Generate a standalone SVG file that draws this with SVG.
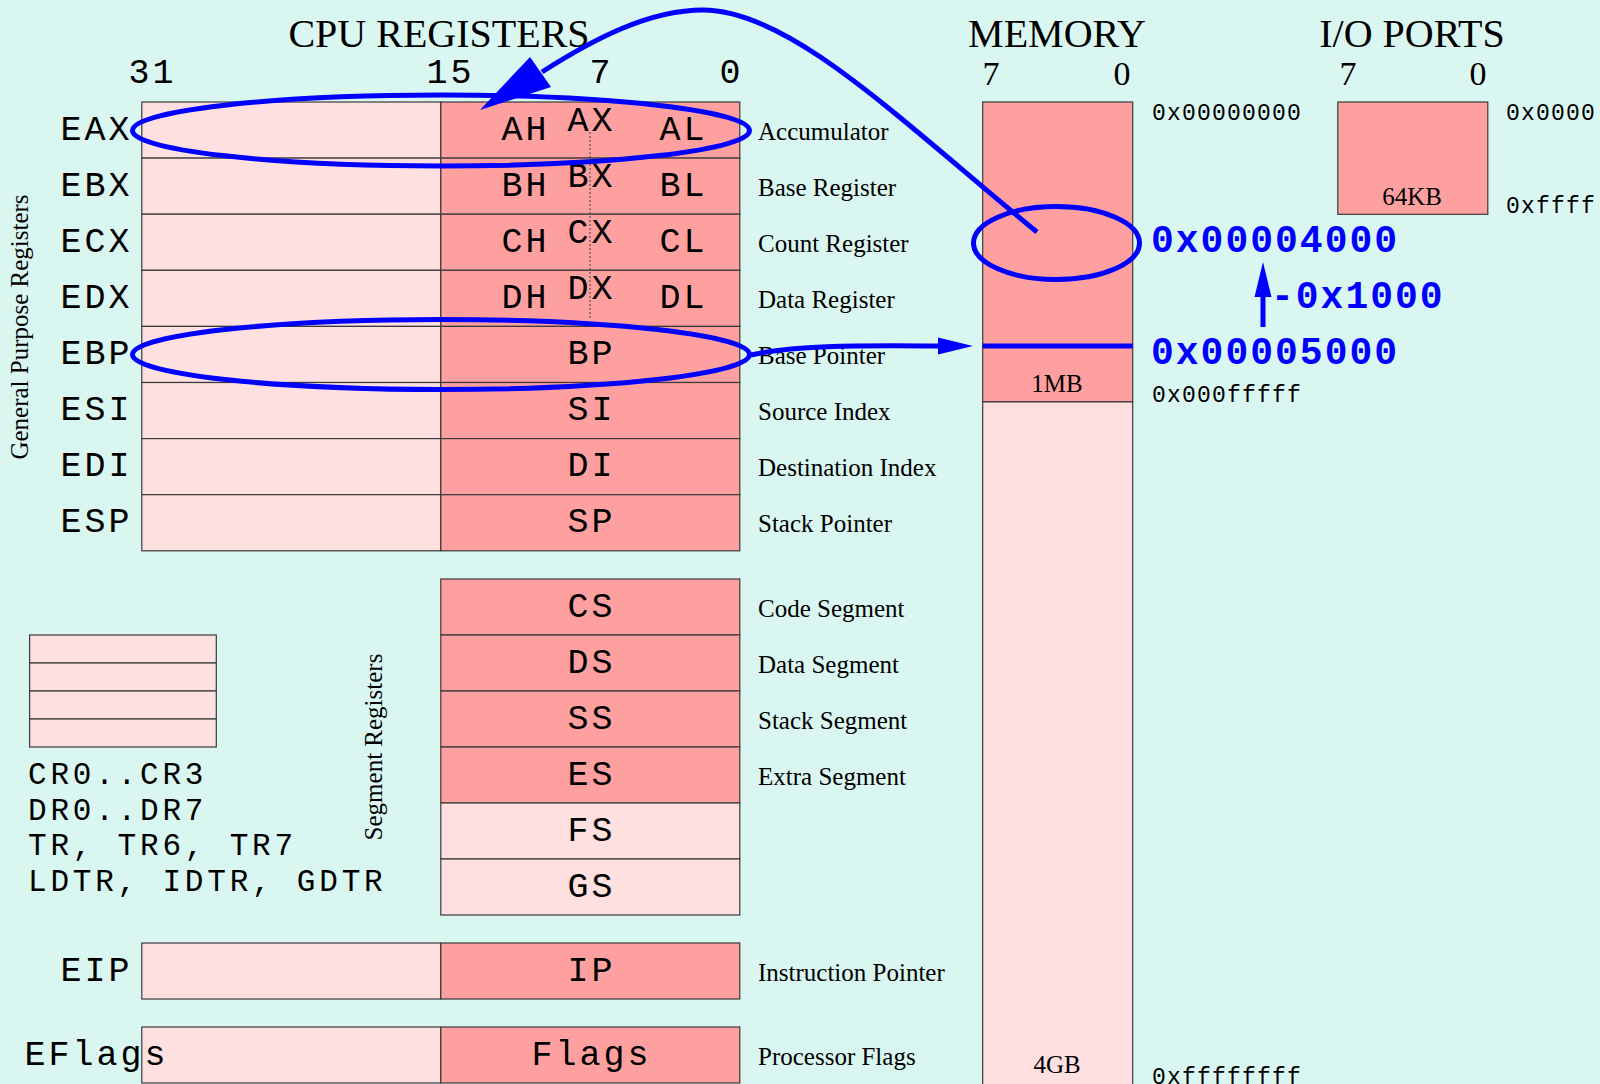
<svg xmlns="http://www.w3.org/2000/svg" width="1600" height="1084" viewBox="0 0 1600 1084">
<style>
.lo{fill:#ffe0e0;stroke:#3a3a3a;stroke-width:1.2}
.hi{fill:#ffa0a0;stroke:#3a3a3a;stroke-width:1.2}
.reg{font-family:"Liberation Mono",monospace;font-size:35px;letter-spacing:3px;fill:#000;text-anchor:middle}
.ctl{font-family:"Liberation Mono",monospace;font-size:31px;letter-spacing:3.8px;fill:#000}
.title{font-family:"Liberation Serif",serif;font-size:40px;fill:#000;text-anchor:middle}
.bit{font-family:"Liberation Serif",serif;font-size:34px;fill:#000;text-anchor:middle}
.desc{font-family:"Liberation Serif",serif;font-size:25px;fill:#000}
.mid{text-anchor:middle}
.addr{font-family:"Liberation Mono",monospace;font-size:23px;letter-spacing:1.2px;fill:#000}
.big{font-family:"Liberation Mono",monospace;font-size:38px;letter-spacing:2px;font-weight:bold;fill:#0000ff}
.blue{fill:none;stroke:#0000ff;stroke-width:5}
.head{fill:#0000ff;stroke:none}
.dot{stroke:#555;stroke-width:1.2;stroke-dasharray:2 2;fill:none}
</style>
<rect x="0" y="0" width="1600" height="1084" fill="#daf6f0"/>

<g id="titles">
<text class="title" x="439" y="46.5">CPU REGISTERS</text>
<text class="title" x="1057" y="46.5">MEMORY</text>
<text class="title" x="1412" y="46.5">I/O PORTS</text>
<text class="reg" x="152.5" y="83">31</text>
<text class="reg" x="450.5" y="83">15</text>
<text class="reg" x="601.5" y="83">7</text>
<text class="reg" x="731.5" y="83">0</text>
<text class="bit" x="991" y="85">7</text>
<text class="bit" x="1122" y="85">0</text>
<text class="bit" x="1348" y="85">7</text>
<text class="bit" x="1478" y="85">0</text>
<text class="desc mid" transform="translate(28,327) rotate(-90)">General Purpose Registers</text>
<text class="desc mid" transform="translate(382,747) rotate(-90)">Segment Registers</text>
</g>

<g id="reg-eax">
<rect class="lo" x="141.8" y="102" width="299" height="56.1"/>
<rect class="hi" x="440.8" y="102" width="299" height="56.1"/>
<text class="reg" x="96.5" y="139.5">EAX</text>
<text class="reg" x="525.5" y="139.5">AH</text>
<text class="reg" x="591.5" y="131">AX</text>
<text class="reg" x="683.5" y="139.5">AL</text>
<text class="desc" x="758" y="139.5">Accumulator</text>
</g>
<g id="reg-ebx">
<rect class="lo" x="141.8" y="158.1" width="299" height="56.1"/>
<rect class="hi" x="440.8" y="158.1" width="299" height="56.1"/>
<text class="reg" x="96.5" y="195.6">EBX</text>
<text class="reg" x="525.5" y="195.6">BH</text>
<text class="reg" x="591.5" y="187">BX</text>
<text class="reg" x="683.5" y="195.6">BL</text>
<text class="desc" x="758" y="195.6">Base Register</text>
</g>
<g id="reg-ecx">
<rect class="lo" x="141.8" y="214.2" width="299" height="56.1"/>
<rect class="hi" x="440.8" y="214.2" width="299" height="56.1"/>
<text class="reg" x="96.5" y="251.7">ECX</text>
<text class="reg" x="525.5" y="251.7">CH</text>
<text class="reg" x="591.5" y="243">CX</text>
<text class="reg" x="683.5" y="251.7">CL</text>
<text class="desc" x="758" y="251.7">Count Register</text>
</g>
<g id="reg-edx">
<rect class="lo" x="141.8" y="270.3" width="299" height="56.1"/>
<rect class="hi" x="440.8" y="270.3" width="299" height="56.1"/>
<text class="reg" x="96.5" y="307.8">EDX</text>
<text class="reg" x="525.5" y="307.8">DH</text>
<text class="reg" x="591.5" y="299">DX</text>
<text class="reg" x="683.5" y="307.8">DL</text>
<text class="desc" x="758" y="307.8">Data Register</text>
</g>
<line class="dot" x1="590" y1="132" x2="590" y2="320"/>
<g id="reg-ebp">
<rect class="lo" x="141.8" y="326.4" width="299" height="56.1"/>
<rect class="hi" x="440.8" y="326.4" width="299" height="56.1"/>
<text class="reg" x="96.5" y="363.9">EBP</text>
<text class="reg" x="591.5" y="363.9">BP</text>
<text class="desc" x="758" y="363.9">Base Pointer</text>
</g>
<g id="reg-esi">
<rect class="lo" x="141.8" y="382.5" width="299" height="56.1"/>
<rect class="hi" x="440.8" y="382.5" width="299" height="56.1"/>
<text class="reg" x="96.5" y="420">ESI</text>
<text class="reg" x="591.5" y="420">SI</text>
<text class="desc" x="758" y="420">Source Index</text>
</g>
<g id="reg-edi">
<rect class="lo" x="141.8" y="438.6" width="299" height="56.1"/>
<rect class="hi" x="440.8" y="438.6" width="299" height="56.1"/>
<text class="reg" x="96.5" y="476.1">EDI</text>
<text class="reg" x="591.5" y="476.1">DI</text>
<text class="desc" x="758" y="476.1">Destination Index</text>
</g>
<g id="reg-esp">
<rect class="lo" x="141.8" y="494.7" width="299" height="56.1"/>
<rect class="hi" x="440.8" y="494.7" width="299" height="56.1"/>
<text class="reg" x="96.5" y="532.2">ESP</text>
<text class="reg" x="591.5" y="532.2">SP</text>
<text class="desc" x="758" y="532.2">Stack Pointer</text>
</g>

<g id="seg-cs">
<rect class="hi" x="440.8" y="579" width="299" height="56"/>
<text class="reg" x="591.5" y="617">CS</text>
<text class="desc" x="758" y="617">Code Segment</text>
</g>
<g id="seg-ds">
<rect class="hi" x="440.8" y="635" width="299" height="56"/>
<text class="reg" x="591.5" y="673">DS</text>
<text class="desc" x="758" y="673">Data Segment</text>
</g>
<g id="seg-ss">
<rect class="hi" x="440.8" y="691" width="299" height="56"/>
<text class="reg" x="591.5" y="729">SS</text>
<text class="desc" x="758" y="729">Stack Segment</text>
</g>
<g id="seg-es">
<rect class="hi" x="440.8" y="747" width="299" height="56"/>
<text class="reg" x="591.5" y="785">ES</text>
<text class="desc" x="758" y="785">Extra Segment</text>
</g>
<g id="seg-fs">
<rect class="lo" x="440.8" y="803" width="299" height="56"/>
<text class="reg" x="591.5" y="841">FS</text>
</g>
<g id="seg-gs">
<rect class="lo" x="440.8" y="859" width="299" height="56"/>
<text class="reg" x="591.5" y="897">GS</text>
</g>

<g id="ctrl-regs">
<rect class="lo" x="29.6" y="635" width="186.7" height="28"/>
<rect class="lo" x="29.6" y="663" width="186.7" height="28"/>
<rect class="lo" x="29.6" y="691" width="186.7" height="28"/>
<rect class="lo" x="29.6" y="719" width="186.7" height="28"/>
<text class="ctl" x="28" y="784">CR0..CR3</text>
<text class="ctl" x="28" y="820">DR0..DR7</text>
<text class="ctl" x="28" y="855">TR, TR6, TR7</text>
<text class="ctl" x="28" y="891">LDTR, IDTR, GDTR</text>
</g>

<g id="reg-eip">
<rect class="lo" x="141.8" y="943" width="299" height="56"/>
<rect class="hi" x="440.8" y="943" width="299" height="56"/>
<text class="reg" x="96.5" y="981">EIP</text>
<text class="reg" x="591.5" y="981">IP</text>
<text class="desc" x="758" y="981">Instruction Pointer</text>
</g>
<g id="reg-eflags">
<rect class="lo" x="141.8" y="1027" width="299" height="56"/>
<rect class="hi" x="440.8" y="1027" width="299" height="56"/>
<text class="reg" x="96.5" y="1065">EFlags</text>
<text class="reg" x="591.5" y="1065">Flags</text>
<text class="desc" x="758" y="1065">Processor Flags</text>
</g>

<g id="memory">
<rect class="lo" x="982.7" y="401.7" width="150" height="690"/>
<rect class="hi" x="982.7" y="102" width="150" height="299.7"/>
<text class="desc mid" x="1057" y="392">1MB</text>
<text class="desc mid" x="1057" y="1073">4GB</text>
<text class="addr" x="1152" y="120">0x00000000</text>
<text class="addr" x="1152" y="402">0x000fffff</text>
<text class="addr" x="1152" y="1084">0xffffffff</text>
<line x1="982.7" y1="346" x2="1132.7" y2="346" stroke="#0000ff" stroke-width="5"/>
<text class="big" x="1151" y="252">0x00004000</text>
<text class="big" x="1151" y="364">0x00005000</text>
<text class="big" x="1271" y="308">-0x1000</text>
</g>

<g id="io-ports">
<rect class="hi" x="1337.8" y="102" width="150" height="112.3"/>
<text class="desc mid" x="1412" y="205">64KB</text>
<text class="addr" x="1506" y="120">0x0000</text>
<text class="addr" x="1506" y="213">0xffff</text>
</g>

<g id="highlights">
<ellipse class="blue" cx="441" cy="130.5" rx="308.5" ry="35.5"/>
<ellipse class="blue" cx="441" cy="354.5" rx="308.5" ry="35"/>
<ellipse class="blue" cx="1056.5" cy="243" rx="83" ry="36.5"/>
</g>

<g id="connectors">
<path class="blue" d="M1037,232 C900,120 790,10 703,10 C650,10 595,38 542,72"/>
<polygon class="head" points="530,57 551,87 480,110"/>
<path class="blue" d="M751,355 C790,346 850,345 940,346"/>
<polygon class="head" points="938,337.5 973,346 938,354.5"/>
<line class="blue" x1="1263" y1="327" x2="1263" y2="292"/>
<polygon class="head" points="1254.5,297 1263,262 1271.5,297"/>
</g>
</svg>
